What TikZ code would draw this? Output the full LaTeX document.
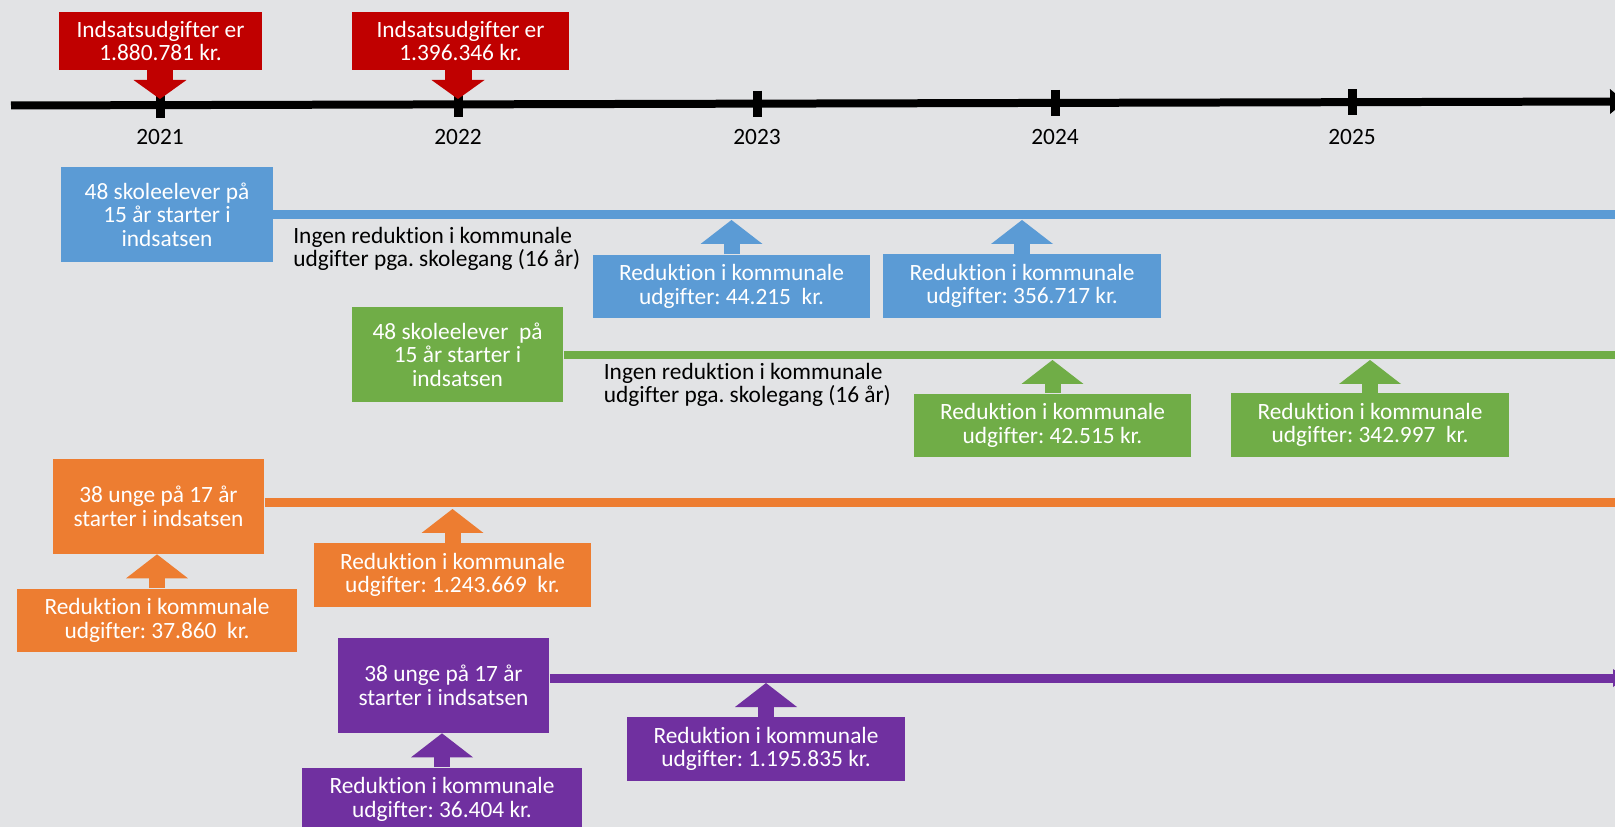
\documentclass[tikz,border=0pt]{standalone}
\usepackage{fontspec}
\setmainfont{Carlito}[Ligatures={NoCommon}]
\usetikzlibrary{calc,arrows.meta}
\frenchspacing

\definecolor{bgray}{RGB}{226,227,229}
\definecolor{kred}{HTML}{C00000}
\definecolor{kblue}{HTML}{5B9BD5}
\definecolor{kgreen}{HTML}{70AD47}
\definecolor{korange}{HTML}{ED7D31}
\definecolor{kpurple}{HTML}{7030A0}

\tikzset{
  every node/.style={font=\fontsize{13.3pt}{13.4pt}\selectfont, align=center, inner sep=0pt},
  redbox/.style={fill=kred, text=white, minimum height=1.16cm},
  startbox/.style={fill=#1, text=white, minimum width=4.24cm, minimum height=1.9cm},
  redubox/.style={fill=#1, text=white, minimum width=5.56cm, minimum height=1.28cm},
  note/.style={align=left, anchor=west},
  period/.style={draw=#1, line width=0.18cm},
  uparrow/.style={draw=#1, line width=0.32cm, -{Triangle[length=0.48cm,width=1.24cm,line width=0pt]}},
  downarrow/.style={draw=kred, line width=0.54cm, -{Triangle[length=0.38cm,width=1.06cm,line width=0pt]}},
}

\begin{document}
\begin{tikzpicture}[x=0.02cm, y=-0.02cm]
  % background
  \useasboundingbox (0,0) rectangle (1615,827);
  \fill[bgray] (0,0) rectangle (1615,827);
  \clip (0,0) rectangle (1615,827);
  % time axis
  \coordinate (axL) at (11,105.5);
  \coordinate (axR) at (1625,101.5);
  \draw[line width=0.16cm, -{Triangle[length=0.3cm,width=0.5cm,line width=0pt]}] (axL) -- (axR);
  \foreach \x/\yr in {160/2021, 458/2022, 757/2023, 1055/2024, 1352/2025}{
    \draw[line width=0.18cm] (\x,{105.5-4*(\x-11)/1614-13}) -- (\x,{105.5-4*(\x-11)/1614+13});
    \node (y\yr) at (\x,137) {\yr};
  }
  % expenses
  \coordinate (axTop) at (0,99);
  \node[redbox, minimum width=4.06cm] (exp21) at (160.5,41) {Indsatsudgifter er\\1.880.781 kr.};
  \node[redbox, minimum width=4.34cm] (exp22) at (460.5,41) {Indsatsudgifter er\\1.396.346 kr.};
  \draw[downarrow] (exp21.south -| y2021) -- (y2021 |- axTop);
  \draw[downarrow] (exp22.south -| y2022) -- (y2022 |- axTop);
  % blue group
  \node[startbox=kblue] (blueS) at (167,214.5) {48 skoleelever på\\15 år starter i\\indsatsen};
  \coordinate (blueE) at (1625,215);
  \coordinate (blueLow) at (0,220);
  \draw[period=kblue] (blueS.east |- blueE) -- (blueE);
  \node[note] (blueN) at (293,249) {Ingen reduktion i kommunale\\udgifter pga. skolegang (16 år)};
  \node[redubox=kblue] (blueR1) at (731.5,286.5) {Reduktion i kommunale\\udgifter: 44.215\ \ kr.};
  \node[redubox=kblue] (blueR2) at (1022,286) {Reduktion i kommunale\\udgifter: 356.717 kr.};
  \draw[uparrow=kblue] (blueR1.north) -- (blueR1.north |- blueLow);
  \draw[uparrow=kblue] (blueR2.north) -- (blueR2.north |- blueLow);
  % green group
  \node[startbox=kgreen] (greenS) at (457.5,354.5) {48 skoleelever\ \ på\\15 år starter i\\indsatsen};
  \coordinate (greenE) at (1625,355);
  \coordinate (greenLow) at (0,360);
  \draw[period=kgreen] (greenS.east |- greenE) -- (greenE);
  \node[note] (greenN) at (603.5,385) {Ingen reduktion i kommunale\\udgifter pga. skolegang (16 år)};
  \node[redubox=kgreen] (greenR1) at (1052.5,425.5) {Reduktion i kommunale\\udgifter: 42.515 kr.};
  \node[redubox=kgreen] (greenR2) at (1370,425) {Reduktion i kommunale\\udgifter: 342.997\ \ kr.};
  \draw[uparrow=kgreen] (greenR1.north) -- (greenR1.north |- greenLow);
  \draw[uparrow=kgreen] (greenR2.north) -- (greenR2.north |- greenLow);
  % orange group
  \node[startbox=korange] (orangeS) at (158.5,506.5) {38 unge på 17 år\\starter i indsatsen};
  \coordinate (orangeE) at (1625,502);
  \coordinate (orangeLow) at (0,509);
  \draw[period=korange] (orangeS.east |- orangeE) -- (orangeE);
  \node[redubox=korange, minimum width=5.6cm] (orangeA) at (157,620.5) {Reduktion i kommunale\\udgifter: 37.860\ \ kr.};
  \node[redubox=korange] (orangeB) at (452.5,575) {Reduktion i kommunale\\udgifter: 1.243.669\ \ kr.};
  \draw[uparrow=korange] (orangeA.north) -- (orangeA.north |- orangeS.south);
  \draw[uparrow=korange] (orangeB.north) -- (orangeB.north |- orangeLow);
  % purple group
  \node[startbox=kpurple] (purpleS) at (443.5,685.5) {38 unge på 17 år\\starter i indsatsen};
  \coordinate (purpleE) at (1626,678);
  \coordinate (purpleLow) at (0,683);
  \draw[period=kpurple, -{Triangle[length=0.26cm,width=0.36cm,line width=0pt]}] (purpleS.east |- purpleE) -- (purpleE);
  \node[redubox=kpurple] (purpleB) at (766,749) {Reduktion i kommunale\\udgifter: 1.195.835 kr.};
  \node[redubox=kpurple, minimum width=5.6cm] (purpleA) at (442,799.5) {Reduktion i kommunale\\udgifter: 36.404 kr.};
  \draw[uparrow=kpurple] (purpleA.north) -- (purpleA.north |- purpleS.south);
  \draw[uparrow=kpurple] (purpleB.north) -- (purpleB.north |- purpleLow);
\end{tikzpicture}
\end{document}
